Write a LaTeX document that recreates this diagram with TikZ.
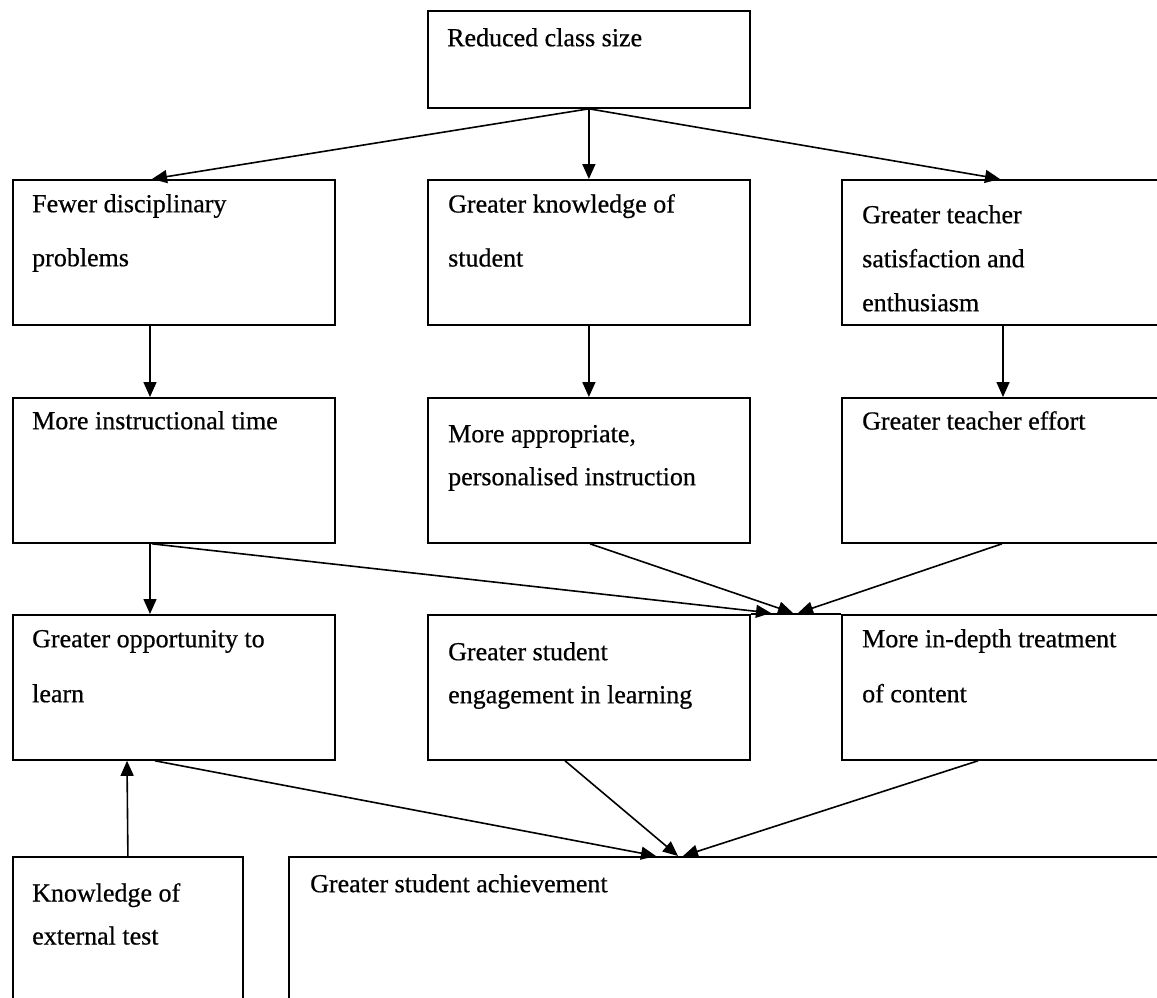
\documentclass[tikz,border=0pt]{standalone}
\usepackage{fontspec}
\setmainfont{Liberation Serif}[BoldFont=Liberation Serif, BoldFeatures={FakeBold=0.6}]
\usetikzlibrary{arrows.meta,calc}
\tikzset{
  box/.style={draw, line width=1.8pt, anchor=north west, inner sep=0pt, minimum width=322pt, minimum height=145pt},
  txt/.style={anchor=north west, inner sep=0pt, align=left, font=\fontsize{26}{43}\selectfont\bfseries},
  wide/.style={font=\fontsize{26}{54}\selectfont\bfseries},
  arr/.style={line width=1.6pt, -{Triangle[length=15pt,width=13pt]}},
  ln/.style={line width=1.8pt}
}
\newcommand{\fl}{\vphantom{Md}}
\begin{document}
\begin{tikzpicture}[x=1pt,y=-1pt]
\useasboundingbox (0,0) rectangle (1157,998);
% boxes
\node[box, minimum height=97pt] (top) at (427,10) {};
\node[box] (b1) at (12,179) {};
\node[box] (b2) at (427,179) {};
\node[box, minimum width=330pt] (b3) at (841,179) {};
\node[box] (c1) at (12,397) {};
\node[box] (c2) at (427,397) {};
\node[box, minimum width=330pt] (c3) at (841,397) {};
\node[box] (d1) at (12,614) {};
\node[box] (d2) at (427,614) {};
\node[box, minimum width=330pt] (d3) at (841,614) {};
\node[box, minimum width=230pt, minimum height=160pt] (e1) at (12,856) {};
\node[box, minimum width=880pt, minimum height=160pt, line width=2.4pt] (e2) at (288,856) {};
% texts
\node[txt] (ttop) at (447,28) {\fl Reduced class size};
\node[txt, wide] (tb1) at (32,194) {\fl Fewer disciplinary\\problems};
\node[txt, wide] (tb2) at (448,194) {\fl Greater knowledge of\\student};
\node[txt, font=\fontsize{26}{44}\selectfont\bfseries] (tb3) at (862,205) {\fl Greater teacher\\satisfaction and\\enthusiasm};
\node[txt] (tc1) at (32,411) {\fl More instructional time};
\node[txt] (tc2) at (448,424) {\fl More appropriate,\\personalised instruction};
\node[txt] (tc3) at (862,411) {\fl Greater teacher effort};
\node[txt, font=\fontsize{26}{55}\selectfont\bfseries] (td1) at (32,629) {\fl Greater opportunity to\\learn};
\node[txt] (td2) at (448,642) {\fl Greater student\\engagement in learning};
\node[txt, font=\fontsize{26}{55}\selectfont\bfseries] (td3) at (862,629) {\fl More in-depth treatment\\of content};
\node[txt] (te1) at (32,883) {\fl Knowledge of\\external test};
\node[txt] (te2) at (310,874) {\fl Greater student achievement};
% merge points
\coordinate (m1) at (771,613);
\coordinate (m2) at (793,613);
\coordinate (m3) at (798,613);
\coordinate (n1) at (656,856);
\coordinate (n2) at (678,856);
\coordinate (n3) at (683,856);
% connectors
\draw[arr] (top.south) -- ($(b1.north west)+(140,0)$);
\draw[arr] (top.south) -- (b2.north);
\draw[arr] (top.south) -- ($(b3.north west)+(159,0)$);
\draw[arr] ($(b1.south west)+(138,0)$) -- ($(c1.north west)+(138,0)$);
\draw[arr] (b2.south) -- (c2.north);
\draw[arr] ($(b3.south west)+(162,0)$) -- ($(c3.north west)+(162,0)$);
\draw[arr] ($(c1.south west)+(138,0)$) -- ($(d1.north west)+(138,0)$);
\draw[arr] ($(c1.south west)+(140,0)$) -- (m1);
\draw[arr] ($(c2.south west)+(163,0)$) -- (m2);
\draw[arr] ($(c3.south west)+(161,0)$) -- (m3);
\draw[ln] (d2.north east) -- (d3.north west);
\draw[arr] ($(d1.south west)+(143,0)$) -- (n1);
\draw[arr] ($(d2.south west)+(138,0)$) -- (n2);
\draw[arr] ($(d3.south west)+(137,0)$) -- (n3);
\draw[arr] (e1.north) -- ($(d1.south west)+(115,0)$);
\end{tikzpicture}
\end{document}
